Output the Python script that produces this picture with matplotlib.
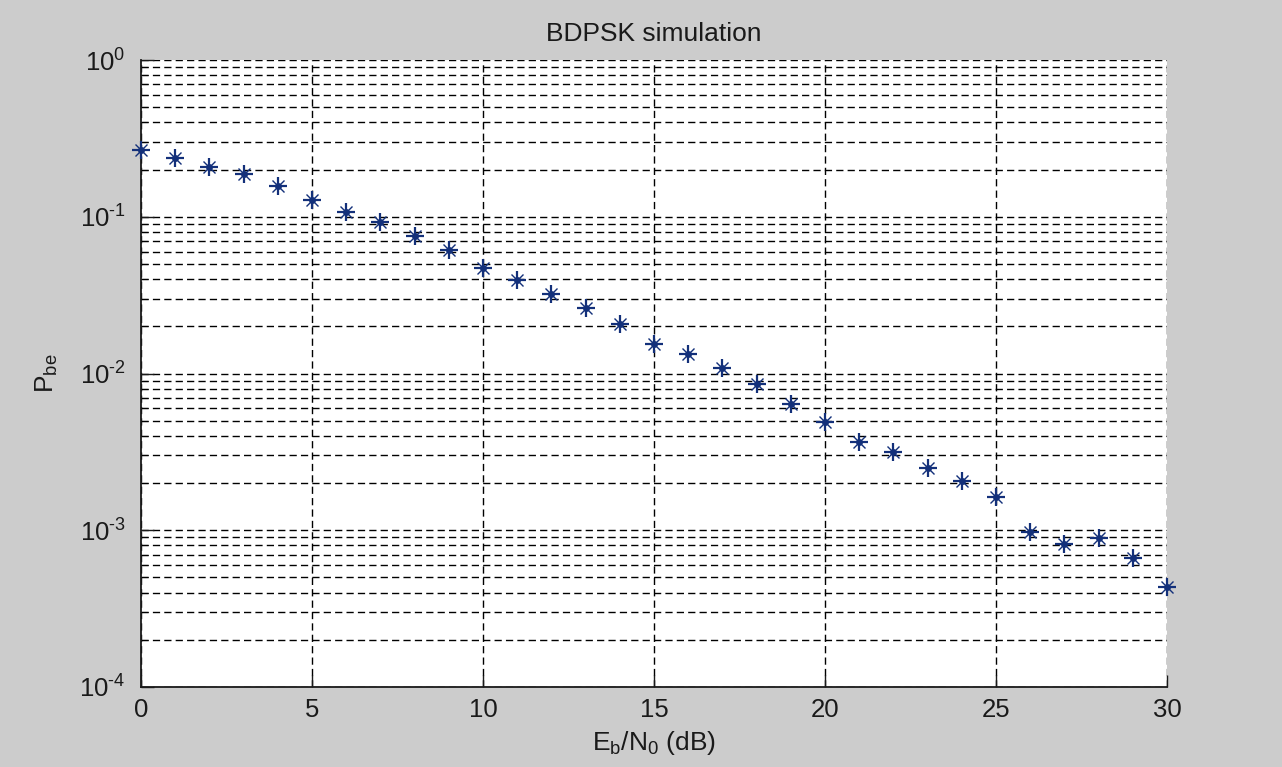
"""BDPSK bit error rate simulation plot."""

import matplotlib

matplotlib.use("Agg")
import matplotlib.pyplot as plt
import matplotlib.ticker as mticker
import numpy as np

plt.rcParams["font.family"] = ["Liberation Sans", "DejaVu Sans"]
plt.rcParams["mathtext.fontset"] = "custom"
plt.rcParams["mathtext.rm"] = "Liberation Sans"
plt.rcParams["mathtext.it"] = "Liberation Sans"
plt.rcParams["mathtext.default"] = "regular"

ebn0_db = list(range(0, 31))
pbe = [
    0.267, 0.237, 0.207, 0.187, 0.157, 0.128, 0.107, 0.0926, 0.0754, 0.0614,
    0.0471, 0.0395, 0.0321, 0.0262, 0.0207, 0.01535, 0.01326, 0.0108, 0.00857,
    0.00639, 0.00492, 0.00364, 0.00314, 0.00248, 0.00207, 0.00164, 0.00097,
    0.000813, 0.000896, 0.000662, 0.000436,
]

marker_color = "#13307a"
grid_dash = (0, (5.2, 3.0))


def decade_label(value, pos):
    exp = int(round(np.log10(value)))
    if exp < 0:
        return r"$10^{\text{-}%d}$" % -exp
    return r"$10^{%d}$" % exp


fig = plt.figure(figsize=(12.82, 7.67), dpi=100, facecolor="#cccccc")
ax = fig.add_axes([141 / 1282, 80 / 767, 1026 / 1282, 627 / 767])
ax.set_facecolor("white")

# matlab '*' marker: a plus with short diagonals and a dense centre
ax.semilogy(ebn0_db, pbe, linestyle="none", marker="+", markersize=13,
            markeredgewidth=1.6, color=marker_color, clip_on=False, zorder=3)
ax.semilogy(ebn0_db, pbe, linestyle="none", marker="x", markersize=8,
            markeredgewidth=1.0, color=marker_color, clip_on=False, zorder=3)
ax.semilogy(ebn0_db, pbe, linestyle="none", marker="o", markersize=5,
            markeredgewidth=0, color=marker_color, clip_on=False, zorder=3)

ax.set_xlim(0, 30)
ax.set_ylim(1e-4, 1)
ax.set_xticks(range(0, 31, 5))
ax.yaxis.set_major_locator(mticker.LogLocator(base=10, numticks=10))
ax.yaxis.set_major_formatter(mticker.FuncFormatter(decade_label))
ax.yaxis.set_minor_locator(mticker.LogLocator(base=10, subs=range(2, 10), numticks=10))
ax.yaxis.set_minor_formatter(mticker.NullFormatter())

ax.grid(True, which="major", axis="both", color="black", linewidth=1.0,
        linestyle=grid_dash)
ax.grid(True, which="minor", axis="y", color="black", linewidth=1.0,
        linestyle=grid_dash)
ax.set_axisbelow(True)

for side in ("top", "right"):
    ax.spines[side].set_visible(False)
for side in ("left", "bottom"):
    ax.spines[side].set_linewidth(1.3)
    ax.spines[side].set_color("#1a1a1a")

ax.tick_params(which="major", direction="in", length=9, width=1.0,
               labelsize=18.5, colors="#1a1a1a")
ax.tick_params(axis="x", which="major", pad=8)
ax.tick_params(axis="y", which="major", pad=11)
ax.tick_params(which="minor", direction="in", length=5, width=0.8)

ax.set_title("BDPSK simulation", fontsize=19, pad=14, color="#1a1a1a")
ax.set_xlabel(r"$E_b/N_0$ (dB)", fontsize=19, labelpad=5, color="#1a1a1a")
ax.set_ylabel(r"$P_{be}$", fontsize=19, labelpad=14, color="#1a1a1a")

fig.savefig("out.png", dpi=100, facecolor=fig.get_facecolor())
